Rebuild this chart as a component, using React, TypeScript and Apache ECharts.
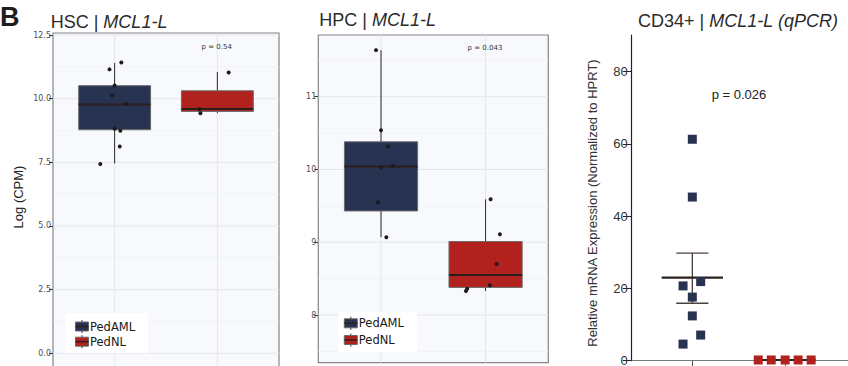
import React, { useEffect, useRef } from 'react';
import * as echarts from 'echarts';

const GROUPS = ['PedAML', 'PedNL'];
const GROUP_COLORS = ['#283251', '#b1221f'];
const BOX_WIDTH = 0.7;

// Box stats: [group, lowerWhisker, q1, median, q3, upperWhisker]
const HSC_BOX = [
  [1, 7.45, 8.78, 9.77, 10.51, 11.40],
  [2, 9.43, 9.50, 9.59, 10.31, 11.05],
];
const HSC_AML_JITTER = [-0.14, -0.05, 0.065, 0, -0.025, 0.11, 0, 0.055, 0.05];
const HSC_AML_VALUES = [7.43, 11.15, 11.42, 10.52, 10.13, 9.79, 8.82, 8.74, 8.12];
const HSC_NL_JITTER = [0.11, -0.175, -0.165];
const HSC_NL_VALUES = [11.03, 9.59, 9.43];
const HSC_MAJOR = [0, 2.5, 5, 7.5, 10, 12.5];
const HSC_MINOR = [1.25, 3.75, 6.25, 8.75, 11.25];

const HPC_BOX = [
  [1, 9.07, 9.43, 10.04, 10.38, 11.64],
  [2, 8.33, 8.38, 8.55, 9.01, 9.59],
];
const HPC_AML_JITTER = [-0.048, 0, 0.067, 0, 0.111, -0.029, 0.051];
const HPC_AML_VALUES = [11.64, 10.54, 10.32, 10.03, 10.05, 9.55, 9.07];
const HPC_NL_JITTER = [0.048, 0.137, 0.105, 0.041, -0.176, -0.188];
const HPC_NL_VALUES = [9.59, 9.11, 8.70, 8.41, 8.36, 8.33];
const HPC_MAJOR = [8, 9, 10, 11];
const HPC_MINOR = [7.5, 8.5, 9.5, 10.5, 11.5];

const QPCR_AML_JITTER = [0, 0, -0.1, 0.09, 0, 0, 0.09, -0.1];
const QPCR_AML_VALUES = [61.3, 45.3, 20.7, 21.9, 17.6, 12.4, 7.1, 4.6];
const QPCR_NL_JITTER = [-0.29, -0.15, 0, 0.14, 0.28];
const QPCR_NL_VALUES = [0.2, 0.2, 0.2, 0.2, 0.2];
// [group, mean, lower (mean - SEM), upper (mean + SEM)]
const QPCR_MEAN_SEM = [
  [1, 23.0, 15.9, 29.8],
  [2, 0.2, 0.1, 0.3],
];
const QPCR_TICKS = [0, 20, 40, 60, 80];

const P_VALUES = ['p = 0.54', 'p = 0.043', 'p = 0.026'];

const SANS = "'Liberation Sans', Arial, sans-serif";
const GG = "'DejaVu Sans', sans-serif";

function pts(jit: number[], vals: number[], g: number) {
  return vals.map((v, i) => [g + jit[i], v]);
}

function gridLineData(major: number[], minor: number[]) {
  return [...minor.map((v) => [v, 0]), ...major.map((v) => [v, 1])];
}

function hLineRender(params: any, api: any) {
  const cs = params.coordSys;
  const y = api.coord([1, api.value(0)])[1];
  const major = api.value(1) === 1;
  return {
    type: 'line',
    shape: { x1: cs.x, y1: y, x2: cs.x + cs.width, y2: y },
    style: { stroke: major ? '#e4e6ec' : '#eef0f4', lineWidth: major ? 1 : 0.7 },
  };
}

function vLineRender(params: any, api: any) {
  const cs = params.coordSys;
  const x = api.coord([api.value(0), 9])[0];
  return {
    type: 'line',
    shape: { x1: x, y1: cs.y, x2: x, y2: cs.y + cs.height },
    style: { stroke: '#e4e6ec', lineWidth: 1 },
  };
}

function boxRender(params: any, api: any) {
  const g = api.value(0);
  const low = api.coord([g, api.value(1)]);
  const q1 = api.coord([g, api.value(2)]);
  const med = api.coord([g, api.value(3)]);
  const q3 = api.coord([g, api.value(4)]);
  const high = api.coord([g, api.value(5)]);
  const w = api.size([BOX_WIDTH, 0])[0];
  const x = low[0];
  const wStyle = { stroke: '#2a2a2a', lineWidth: 1 };
  return {
    type: 'group',
    children: [
      { type: 'line', shape: { x1: x, y1: high[1], x2: x, y2: q3[1] }, style: wStyle },
      { type: 'line', shape: { x1: x, y1: q1[1], x2: x, y2: low[1] }, style: wStyle },
      {
        type: 'rect',
        shape: { x: x - w / 2, y: q3[1], width: w, height: q1[1] - q3[1] },
        style: { fill: GROUP_COLORS[g - 1], stroke: '#6b6b6b', lineWidth: 1 },
      },
      {
        type: 'line',
        shape: { x1: x - w / 2, y1: med[1], x2: x + w / 2, y2: med[1] },
        style: { stroke: '#2a1f1c', lineWidth: 2 },
      },
    ],
  };
}

function meanSemRender(params: any, api: any) {
  const g = api.value(0);
  const m = api.coord([g, api.value(1)]);
  const lo = api.coord([g, api.value(2)]);
  const hi = api.coord([g, api.value(3)]);
  const mw = api.size([0.33, 0])[0];
  const cw = api.size([0.173, 0])[0];
  const x = m[0];
  const es = { stroke: '#4a403d', lineWidth: 1.3 };
  return {
    type: 'group',
    children: [
      { type: 'line', shape: { x1: x, y1: hi[1], x2: x, y2: lo[1] }, style: es },
      { type: 'line', shape: { x1: x - cw, y1: hi[1], x2: x + cw, y2: hi[1] }, style: es },
      { type: 'line', shape: { x1: x - cw, y1: lo[1], x2: x + cw, y2: lo[1] }, style: es },
      { type: 'line', shape: { x1: x - mw, y1: m[1], x2: x + mw, y2: m[1] }, style: { stroke: '#2a201c', lineWidth: 2.2 } },
    ],
  };
}

function legend(x0: number, rows: number[], bg: number[]) {
  const els: any[] = [
    { type: 'rect', z: 100, shape: { x: bg[0], y: bg[1], width: bg[2], height: bg[3] }, style: { fill: '#ffffff' } },
  ];
  GROUPS.forEach((name, i) => {
    const y = rows[i];
    const cx = x0 + 6.5;
    els.push({ type: 'line', z: 101, shape: { x1: cx, y1: y - 6.5, x2: cx, y2: y + 6.5 }, style: { stroke: '#333', lineWidth: 1 } });
    els.push({ type: 'rect', z: 102, shape: { x: x0, y: y - 4.5, width: 13, height: 9 }, style: { fill: GROUP_COLORS[i], stroke: '#6b6b6b', lineWidth: 1 } });
    els.push({ type: 'line', z: 103, shape: { x1: x0, y1: y, x2: x0 + 13, y2: y }, style: { stroke: '#2a1f1c', lineWidth: 1.4 } });
    els.push({
      type: 'text', z: 103, x: x0 + 14.5, y,
      style: { text: name, fontFamily: GG, fontSize: 11.5, fill: '#1a1a1a', verticalAlign: 'middle', align: 'left' },
    });
  });
  return els;
}

function title(x: number, y: number, plain: string, ital: string) {
  return {
    type: 'text', x, y, z: 50,
    style: {
      text: `{n|${plain}}{i|${ital}}`,
      verticalAlign: 'middle',
      align: 'left',
      rich: {
        n: { fontFamily: SANS, fontSize: 18, fill: '#2b2b2b' },
        i: { fontFamily: SANS, fontSize: 18, fontStyle: 'italic', fill: '#2b2b2b' },
      },
    },
  };
}

function ggYAxis(grid: number, min: number, max: number, major: number[], digits: number) {
  return {
    type: 'value', gridIndex: grid, min, max, position: 'left',
    axisLine: { show: false, onZero: false },
    axisTick: { show: true, length: 4, customValues: major, lineStyle: { color: '#333', width: 1 } },
    axisLabel: {
      show: true, customValues: major, margin: 2, fontSize: 8, fontFamily: GG, color: '#4d4d4d',
      formatter: (v: number) => v.toFixed(digits),
    },
    splitLine: { show: false },
  };
}

function ggXAxis(grid: number) {
  return {
    type: 'value', gridIndex: grid, min: 0.4, max: 2.6,
    axisLine: { show: false, onZero: false }, axisTick: { show: false }, axisLabel: { show: false }, splitLine: { show: false },
  };
}

export default function App() {
  const ref = useRef<HTMLDivElement>(null);
  useEffect(() => {
    if (!ref.current) return;
    const chart = echarts.init(ref.current, undefined, { renderer: 'svg' });
    const gridBox = { show: true, backgroundColor: '#f8f9fc', borderColor: '#858585', borderWidth: 1.2 };
    const option: any = {
      animation: false,
      backgroundColor: '#ffffff',
      textStyle: { fontFamily: SANS },
      grid: [
        { left: 53, top: 33, width: 226, height: 340, ...gridBox },
        { left: 318.3, top: 35, width: 230, height: 327.7, ...gridBox },
        { left: 631.7, top: 35, width: 220, height: 325.7, show: false },
      ],
      xAxis: [
        ggXAxis(0),
        ggXAxis(1),
        {
          type: 'value', gridIndex: 2, min: 0.347, max: 2.677,
          axisLine: { show: true, onZero: false, lineStyle: { color: '#7a7a7a', width: 1.2 } },
          axisTick: { show: true, length: 7, customValues: [1, 2], lineStyle: { color: '#555', width: 1 } },
          axisLabel: { show: false },
          splitLine: { show: false },
        },
      ],
      yAxis: [
        ggYAxis(0, -0.774, 12.579, HSC_MAJOR, 1),
        ggYAxis(1, 7.345, 11.848, HPC_MAJOR, 0),
        {
          type: 'value', gridIndex: 2, min: 0, max: 90.16,
          axisLine: { show: true, onZero: false, lineStyle: { color: '#222', width: 1.2 } },
          axisTick: { show: true, length: 9, customValues: QPCR_TICKS, lineStyle: { color: '#222', width: 1 } },
          axisLabel: { show: true, customValues: QPCR_TICKS, margin: 4, fontSize: 13, fontFamily: SANS, color: '#333' },
          splitLine: { show: false },
        },
      ],
      series: [
        // HSC panel
        { type: 'custom', xAxisIndex: 0, yAxisIndex: 0, z: 1, silent: true, renderItem: hLineRender, data: gridLineData(HSC_MAJOR, HSC_MINOR) },
        { type: 'custom', xAxisIndex: 0, yAxisIndex: 0, z: 1, silent: true, renderItem: vLineRender, data: [[1], [2]] },
        { type: 'custom', xAxisIndex: 0, yAxisIndex: 0, z: 2, renderItem: boxRender, data: HSC_BOX },
        { type: 'scatter', xAxisIndex: 0, yAxisIndex: 0, z: 3, symbolSize: 4, itemStyle: { color: '#1b1b1b', opacity: 1 }, data: pts(HSC_AML_JITTER, HSC_AML_VALUES, 1) },
        { type: 'scatter', xAxisIndex: 0, yAxisIndex: 0, z: 3, symbolSize: 4, itemStyle: { color: '#1b1b1b', opacity: 1 }, data: pts(HSC_NL_JITTER, HSC_NL_VALUES, 2) },
        // HPC panel
        { type: 'custom', xAxisIndex: 1, yAxisIndex: 1, z: 1, silent: true, renderItem: hLineRender, data: gridLineData(HPC_MAJOR, HPC_MINOR) },
        { type: 'custom', xAxisIndex: 1, yAxisIndex: 1, z: 1, silent: true, renderItem: vLineRender, data: [[1], [2]] },
        { type: 'custom', xAxisIndex: 1, yAxisIndex: 1, z: 2, renderItem: boxRender, data: HPC_BOX },
        { type: 'scatter', xAxisIndex: 1, yAxisIndex: 1, z: 3, symbolSize: 4, itemStyle: { color: '#1b1b1b', opacity: 1 }, data: pts(HPC_AML_JITTER, HPC_AML_VALUES, 1) },
        { type: 'scatter', xAxisIndex: 1, yAxisIndex: 1, z: 3, symbolSize: 4, itemStyle: { color: '#1b1b1b', opacity: 1 }, data: pts(HPC_NL_JITTER, HPC_NL_VALUES, 2) },
        // qPCR panel
        { type: 'custom', xAxisIndex: 2, yAxisIndex: 2, z: 2, renderItem: meanSemRender, data: QPCR_MEAN_SEM },
        { type: 'scatter', xAxisIndex: 2, yAxisIndex: 2, z: 3, symbol: 'rect', symbolSize: 9, clip: false, itemStyle: { color: GROUP_COLORS[0], opacity: 1 }, data: pts(QPCR_AML_JITTER, QPCR_AML_VALUES, 1) },
        { type: 'scatter', xAxisIndex: 2, yAxisIndex: 2, z: 3, symbol: 'rect', symbolSize: 9, clip: false, itemStyle: { color: GROUP_COLORS[1], opacity: 1 }, data: pts(QPCR_NL_JITTER, QPCR_NL_VALUES, 2) },
      ],
      graphic: [
        { type: 'text', x: 0, y: 16.5, z: 50, style: { text: 'B', fontFamily: SANS, fontWeight: 'bold', fontSize: 27, fill: '#1e1e1e', verticalAlign: 'middle' } },
        title(50.7, 22, 'HSC | ', 'MCL1-L'),
        title(319.3, 19.5, 'HPC | ', 'MCL1-L'),
        title(638, 20.5, 'CD34+ | ', 'MCL1-L (qPCR)'),
        {
          type: 'text', x: 18, y: 197, rotation: Math.PI / 2, z: 50,
          style: { text: 'Log (CPM)', fontFamily: SANS, fontSize: 13, fill: '#222', align: 'center', verticalAlign: 'middle' },
        },
        {
          type: 'text', x: 592.7, y: 203, rotation: Math.PI / 2, z: 50,
          style: { text: 'Relative mRNA Expression (Normalized to HPRT)', fontFamily: SANS, fontSize: 13, fill: '#333', align: 'center', verticalAlign: 'middle' },
        },
        { type: 'text', x: 216.7, y: 46.7, z: 50, style: { text: P_VALUES[0], fontFamily: GG, fontSize: 7, fill: '#333', align: 'center', verticalAlign: 'middle' } },
        { type: 'text', x: 485, y: 47.7, z: 50, style: { text: P_VALUES[1], fontFamily: GG, fontSize: 7, fill: '#333', align: 'center', verticalAlign: 'middle' } },
        { type: 'text', x: 739, y: 94.3, z: 50, style: { text: P_VALUES[2], fontFamily: SANS, fontSize: 13, fill: '#222', align: 'center', verticalAlign: 'middle' } },
        ...legend(75.5, [326.5, 341.7], [65, 313, 83, 40]),
        ...legend(344.3, [323.3, 340], [338, 312, 79, 40]),
      ],
    };
    chart.setOption(option);
    return () => chart.dispose();
  }, []);
  return (
    <div style={{ position: 'fixed', left: 0, top: 0, width: 848, height: 366, overflow: 'hidden', background: '#fff' }}>
      <div ref={ref} style={{ width: 848, height: 400 }} />
    </div>
  );
}
